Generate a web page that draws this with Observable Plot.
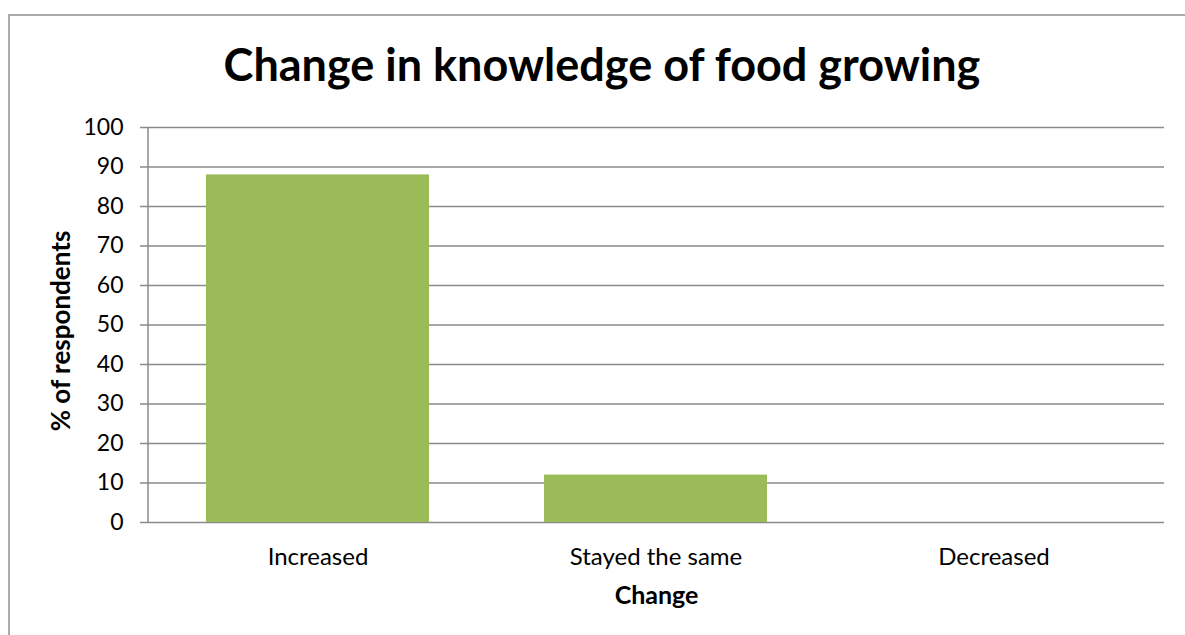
<!DOCTYPE html>
<html>
<head>
<meta charset="utf-8">
<script src="https://cdn.jsdelivr.net/npm/d3@7"></script>
<script src="https://cdn.jsdelivr.net/npm/@observablehq/plot@0.6"></script>
<style>
  html, body { margin: 0; padding: 0; background: #fff; }
  body { width: 1185px; height: 635px; position: relative; overflow: hidden; font-family: Lato, "Open Sans", sans-serif; }
  #box { position: absolute; left: 8px; top: 14px; width: 1200px; height: 700px; border: 2px solid #ababab; box-sizing: border-box; }
  #title { position: absolute; left: 0; width: 1204px; top: 42px; text-align: center; font: bold 45px/1 Lato, sans-serif; color: #000; white-space: nowrap; }
  #chart { position: absolute; left: 0; top: 100px; }
</style>
</head>
<body>
<div id="box"></div>
<div id="title">Change in knowledge of food growing</div>
<div id="chart"></div>
<script>
const categories = ["Increased", "Stayed the same", "Decreased"];
const values = [88, 12, 0];
const yTicks = [0, 10, 20, 30, 40, 50, 60, 70, 80, 90, 100];
const yTitle = "% of respondents";
const xTitle = "Change";

const data = categories.map((c, i) => ({category: c, value: values[i]}));
const gridColor = "#8a8a8a";

const axisLine = (index, scales, values, dims) => {
  const x = dims.marginLeft;
  return d3.create("svg:line")
    .attr("x1", x).attr("x2", x)
    .attr("y1", dims.marginTop).attr("y2", dims.height - dims.marginBottom)
    .attr("stroke", gridColor).attr("stroke-width", 1.5).node();
};

const chart = Plot.plot({
  width: 1185,
  height: 535,
  marginLeft: 148,
  marginRight: 21,
  marginTop: 27,
  marginBottom: 113,
  style: {fontFamily: "Lato, sans-serif", fontSize: "23px", color: "#000", background: "transparent"},
  x: {domain: categories, paddingInner: 0.339, paddingOuter: 0.17, align: 0.5, label: null},
  y: {domain: [0, 100], label: null},
  marks: [
    Plot.gridY(yTicks, {stroke: gridColor, strokeOpacity: 1, strokeWidth: 1.5}),
    Plot.barY(data, {x: "category", y: "value", fill: "#9bbb59"}),
    axisLine,
    Plot.axisY({ticks: yTicks, tickSize: 8, tickPadding: 17, stroke: gridColor, strokeOpacity: 1, strokeWidth: 1.5, fill: "#000", fontSize: 23, label: null}),
    Plot.axisX({tickSize: 0, tickPadding: 25, fill: "#000", fontSize: 24, label: null}),
    Plot.text([yTitle], {text: d => d, frameAnchor: "left", textAnchor: "middle", rotate: -90, dx: -87, dy: 6, fontWeight: "bold", fontSize: 26, fill: "#000"}),
    Plot.text([xTitle], {text: d => d, frameAnchor: "bottom", dy: 81, fontWeight: "bold", fontSize: 25, fill: "#000"})
  ]
});
document.getElementById("chart").appendChild(chart);
</script>
</body>
</html>
